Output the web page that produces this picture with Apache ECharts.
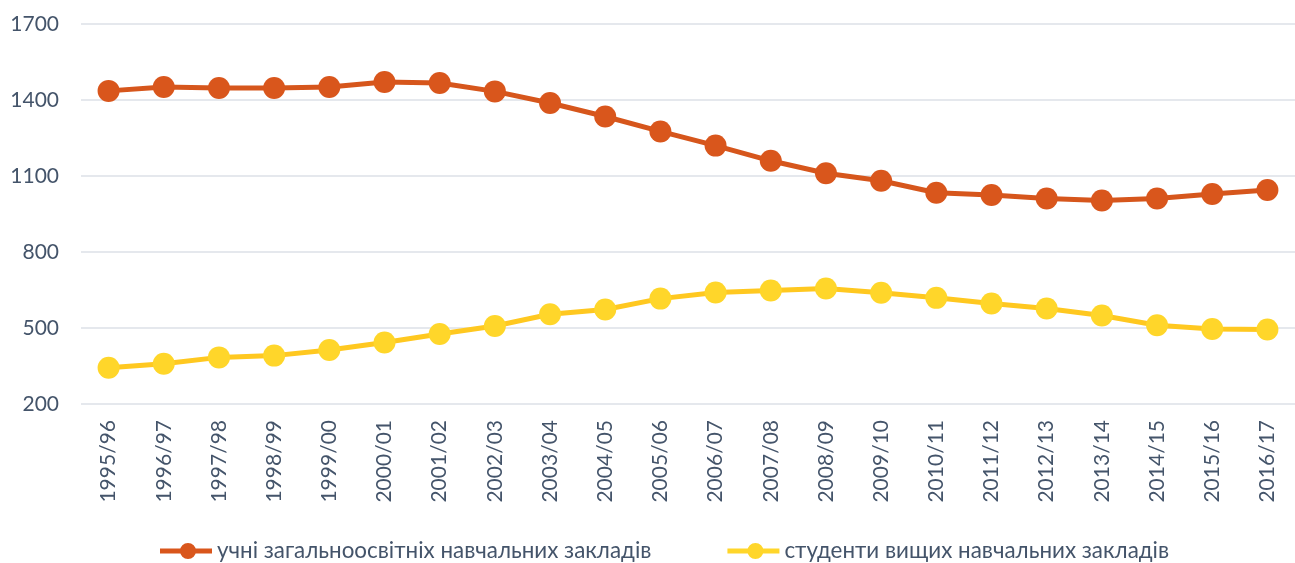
<!DOCTYPE html>
<html>
<head>
<meta charset="utf-8">
<script src="https://cdn.jsdelivr.net/npm/echarts@6/dist/echarts.min.js"></script>
<style>
html,body{margin:0;padding:0;background:#fff;}
#chart{width:1295px;height:563px;}
</style>
</head>
<body>
<div id="chart"></div>
<script>
const categories = ['1995/96','1996/97','1997/98','1998/99','1999/00','2000/01','2001/02','2002/03','2003/04','2004/05','2005/06','2006/07','2007/08','2008/09','2009/10','2010/11','2011/12','2012/13','2013/14','2014/15','2015/16','2016/17'];
const pupils = [1436,1451,1447,1447,1451,1471,1467,1434,1388,1335,1276,1220,1160,1111,1081,1034,1025,1011,1003,1011,1029,1045];
const students = [343,359,384,391,413,443,476,508,554,573,616,640,648,656,639,619,597,577,549,511,496,494];
const seriesNames = ['учні загальноосвітніх навчальних закладів','студенти вищих навчальних закладів'];
const yTicks = {min:200, max:1700, interval:300};

const textColor = '#44546A';
const font = 'Lato, "Noto Sans", sans-serif';
const legendIcon = 'path://M0,5.5 L52,5.5 L52,10.5 L0,10.5 Z M36,8 A8,8 0 1 1 20,8 A8,8 0 1 1 36,8 Z';
const chart = echarts.init(document.getElementById('chart'), null, {renderer:'canvas'});
chart.setOption({
  animation:false,
  backgroundColor:'#fff',
  grid:{left:81, right:-11, top:24, bottom:159, containLabel:false},
  legend:{
    bottom:1, left:160, padding:0,
    itemWidth:52, itemHeight:16, itemGap:76,
    textStyle:{color:textColor, fontSize:22.4, fontFamily:font},
    data:[{name:seriesNames[0], icon:legendIcon}, {name:seriesNames[1], icon:legendIcon}]
  },
  xAxis:{
    type:'category', data:categories, boundaryGap:true,
    axisLine:{show:false}, axisTick:{show:false},
    axisLabel:{rotate:90, color:textColor, fontSize:21, fontFamily:font, margin:16, interval:0}
  },
  yAxis:{
    type:'value', min:yTicks.min, max:yTicks.max, interval:yTicks.interval,
    axisLine:{show:false}, axisTick:{show:false},
    axisLabel:{color:textColor, fontSize:21, fontFamily:font, margin:22, formatter:(v)=>String(v)},
    splitLine:{lineStyle:{color:'#DDE1E7', width:1.5}}
  },
  series:[
    {name:seriesNames[0], type:'line', data:pupils, symbol:'circle', symbolSize:22,
     lineStyle:{color:'#D6561C', width:5}, itemStyle:{color:'#D9561C'}},
    {name:seriesNames[1], type:'line', data:students, symbol:'circle', symbolSize:22,
     lineStyle:{color:'#FFC820', width:5}, itemStyle:{color:'#FFD62A'}}
  ]
});
</script>
</body>
</html>
